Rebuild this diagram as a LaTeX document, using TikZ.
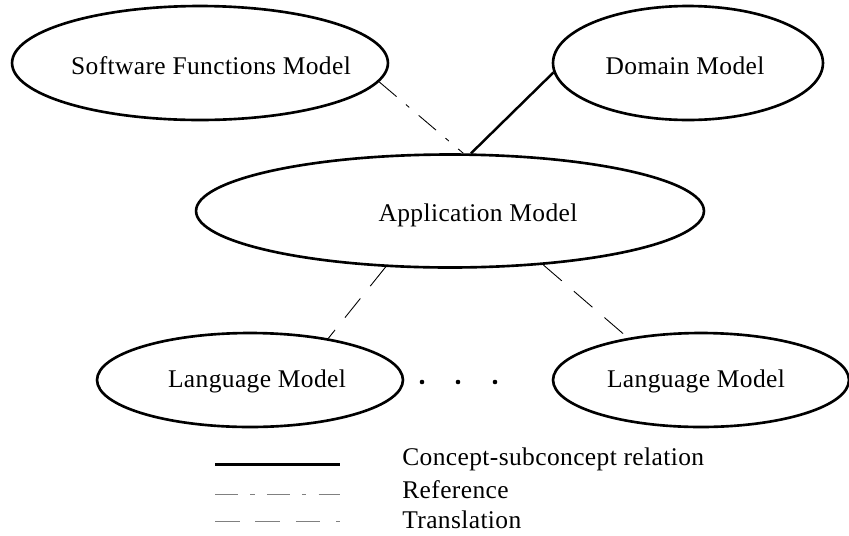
\documentclass[tikz,border=0pt]{standalone}
\usepackage{fontspec}
\setmainfont[LetterSpace=1.5]{Liberation Serif}
\usetikzlibrary{shapes.geometric}

\begin{document}
\begin{tikzpicture}[x=0.02cm, y=-0.02cm,
    every node/.style={font=\fontsize{14.5}{17}\selectfont},
    model/.style={draw, ellipse, line width=1.5pt, inner sep=0pt},
    modeltext/.style={anchor=base, inner sep=0pt},
    concept/.style={line width=1.4pt},
    reference/.style={line width=0.5pt, dash pattern=on 13pt off 7pt on 2.5pt off 7pt},
    translation/.style={line width=0.5pt, dash pattern=on 14pt off 9pt}]
      \useasboundingbox (0,0) rectangle (849,535);
      % Models
      \node[model, minimum width=7.52cm, minimum height=2.28cm] (sfm) at (200,63) {};
      \node[modeltext] (sfmtext) at (211,74) {Software Functions Model};
      \node[model, minimum width=5.4cm, minimum height=2.28cm] (domain) at (688,63) {};
      \node[modeltext] (domaintext) at (685,74) {Domain Model};
      \node[model, minimum width=10.16cm, minimum height=2.26cm] (app) at (450,211) {};
      \node[modeltext] (apptext) at (478,221) {Application Model};
      \node[model, minimum width=6.12cm, minimum height=1.88cm] (langA) at (250,380) {};
      \node[modeltext] (langAtext) at (257,387) {Language Model};
      \node[model, minimum width=5.92cm, minimum height=1.88cm] (langB) at (701,380) {};
      \node[modeltext] (langBtext) at (696,387) {Language Model};
      \foreach \x in {422,458,495}
        \fill (\x,382) circle (1.3pt);
      % Relations
      \draw[concept] (domain.184) -- (app.70);
      \draw[reference] (sfm.354) -- (app.77);
      \draw[translation] (app.221) -- (langA.28);
      \draw[translation] (app.330) -- (langB.150);
      % Legend
      \coordinate (l1) at (215,464);
      \coordinate (r1) at (340,464);
      \coordinate (l2) at (215,494);
      \coordinate (r2) at (340,494);
      \coordinate (l3) at (215,521);
      \coordinate (r3) at (340,521);
      \draw[concept, line width=1.7pt] (l1) -- (r1);
      \draw[reference, gray] (l2) -- (r2);
      \draw[translation, gray] (l3) -- (r3);
      \node[modeltext, anchor=base west] (key1) at (402,465) {Concept-subconcept relation};
      \node[modeltext, anchor=base west] (key2) at (402,498) {Reference};
      \node[modeltext, anchor=base west] (key3) at (402,528) {Translation};
    \end{tikzpicture}
\end{document}
